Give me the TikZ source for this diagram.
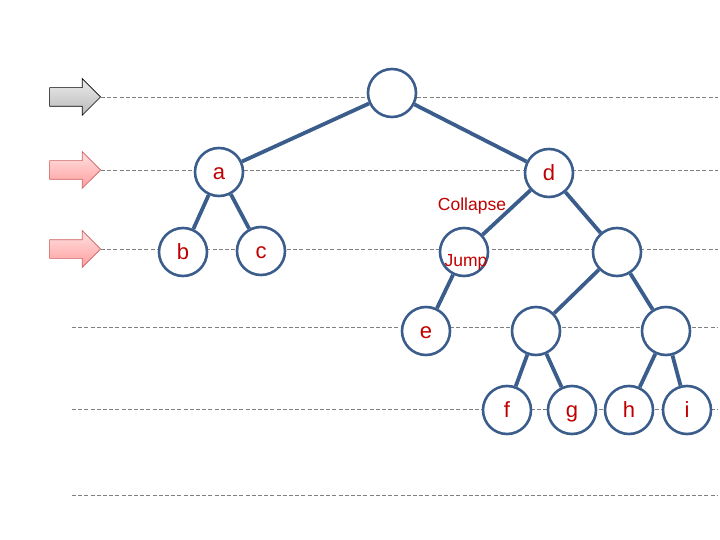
\documentclass[tikz,border=0pt]{standalone}
\usepackage{fontspec}
\setmainfont{Liberation Sans}
\usetikzlibrary{shapes.arrows}

\definecolor{treeblue}{RGB}{59,93,140}
\definecolor{lblred}{RGB}{192,0,0}
\definecolor{pinkedge}{RGB}{205,95,95}

\begin{document}
\begin{tikzpicture}[
      x=1pt, y=-1pt,
      vtx/.style={draw=treeblue, circle, line width=2.6pt, fill=white,
        minimum size=48pt, inner sep=0pt, text=lblred,
        text height=20pt, text depth=4.5pt,
        font=\fontsize{22}{22}\selectfont},
      edge/.style={treeblue, line width=3.8pt},
      lbl/.style={text=lblred, inner sep=0pt, font=\fontsize{17.5}{17.5}\selectfont},
      lvl/.style={draw=gray, line width=0.8pt, dash pattern=on 4pt off 2.2pt},
      marker/.style={single arrow, single arrow head extend=9pt, anchor=tip,
        minimum height=51pt, minimum width=36pt, inner sep=9pt, line width=0.6pt},
      grey marker/.style={marker, draw=black, top color=gray!15, bottom color=gray!55},
      pink marker/.style={marker, draw=pinkedge, top color=red!12, bottom color=red!38},
    ]
    \useasboundingbox (0,0) rectangle (720,540);
    % level markers
    \node[grey marker] (mk1) at (101,97) {};
    \node[pink marker] (mk2) at (101,170) {};
    \node[pink marker] (mk3) at (101,249) {};
    \coordinate (lvl4) at (72,327);
    \coordinate (lvl5) at (72,409);
    \coordinate (lvl6) at (72,495);
    \coordinate (rim) at (718,0);
    \draw[lvl] (mk1.tip) -- (mk1.tip -| rim);
    \draw[lvl] (mk2.tip) -- (mk2.tip -| rim);
    \draw[lvl] (mk3.tip) -- (mk3.tip -| rim);
    \draw[lvl] (lvl4) -- (lvl4 -| rim);
    \draw[lvl] (lvl5) -- (lvl5 -| rim);
    \draw[lvl] (lvl6) -- (lvl6 -| rim);
    % tree
    \node[vtx] (root) at (392,93) {};
    \node[vtx] (a) at (219,172) {a};
    \node[vtx] (d) at (549,173) {d};
    \node[vtx] (b) at (183,252) {b};
    \node[vtx] (c) at (261,251) {c};
    \node[vtx] (jn) at (464,252) {};
    \node[vtx] (rn) at (617,252) {};
    \node[vtx] (e) at (426,331) {e};
    \node[vtx] (ml) at (536,331) {};
    \node[vtx] (mr) at (666,331) {};
    \node[vtx] (f) at (507,410) {f};
    \node[vtx] (g) at (572,410) {g};
    \node[vtx] (h) at (629,410) {h};
    \node[vtx] (i) at (687,410) {i};
    \node[lbl] (collapse) at (472,206) {Collapse};
    \node[lbl] (jump) at (466,262) {Jump};
    \draw[edge] (root) -- (a); \draw[edge] (root) -- (d);
    \draw[edge] (a) -- (b); \draw[edge] (a) -- (c);
    \draw[edge] (d) -- (jn); \draw[edge] (d) -- (rn);
    \draw[edge] (jn) -- (e);
    \draw[edge] (rn) -- (ml); \draw[edge] (rn) -- (mr);
    \draw[edge] (ml) -- (f); \draw[edge] (ml) -- (g);
    \draw[edge] (mr) -- (h); \draw[edge] (mr) -- (i);
  \end{tikzpicture}
\end{document}
